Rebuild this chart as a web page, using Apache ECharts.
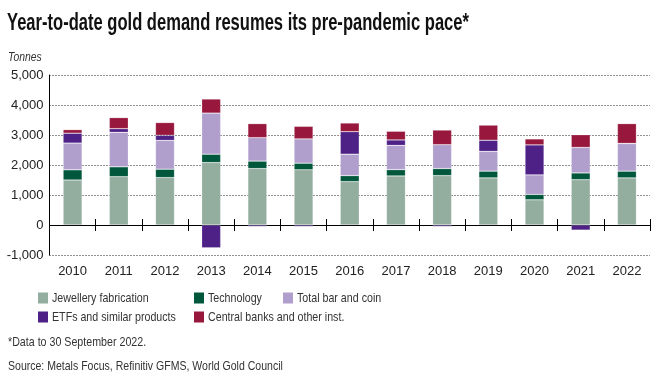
<!DOCTYPE html>
<html>
<head>
<meta charset="utf-8">
<script src="https://cdn.jsdelivr.net/npm/echarts@6/dist/echarts.min.js"></script>
<style>
html,body{margin:0;padding:0;background:#fff;}
#chart{width:666px;height:383px;}
</style>
</head>
<body>
<div id="chart"></div>
<script>
const years = ['2010','2011','2012','2013','2014','2015','2016','2017','2018','2019','2020','2021','2022'];
const jewellery = [1500,1610,1580,2080,1880,1840,1445,1635,1646,1570,840,1510,1570];
const technology = [340,330,280,280,250,220,200,210,235,225,180,225,225];
const barCoin = [890,1150,960,1370,780,810,715,810,795,660,650,850,920];
const etfs = [330,120,170,-760,-50,-50,750,180,-50,370,1000,-170,5];
const centralBanks = [120,370,425,470,470,420,290,290,490,505,200,425,660];
const yTicks = [-1000,0,1000,2000,3000,4000,5000];

const seriesNames = ['Jewellery fabrication','Technology','Total bar and coin','ETFs and similar products','Central banks and other inst.'];
const seriesData = [jewellery, technology, barCoin, etfs, centralBanks];
const colors = ['#93ad9f','#00573b','#b09fcd','#4d2185','#98183d'];

const titleText = 'Year-to-date gold demand resumes its pre-pandemic pace*';
const unitText = 'Tonnes';
const noteText = '*Data to 30 September 2022.';
const sourceText = 'Source: Metals Focus, Refinitiv GFMS, World Gold Council';

const chart = echarts.init(document.getElementById('chart'), null, {renderer:'canvas'});
const sans = '"Liberation Sans", Arial, Helvetica, sans-serif';

function txt(text, x, y, size, opts){
  opts = opts || {};
  return {
    type:'text', x:x, y:y, scaleX:opts.scaleX || 0.8, scaleY:1, silent:true,
    style:{text:text, x:0, y:0, fontFamily:sans, fontSize:size,
      fontWeight:opts.weight || 'normal', fontStyle:opts.style || 'normal',
      fill:opts.color || '#333', textVerticalAlign:'middle', textAlign:'left'}
  };
}

const legendPos = [[38,298],[194,298],[283,298],[38,317],[194,317]];
const graphics = [
  txt(titleText, 7, 24, 23, {weight:'bold', color:'#111', scaleX:0.72}),
  txt(unitText, 8, 57, 13, {style:'italic', scaleX:0.8}),
  txt(noteText, 8, 342, 13.5, {scaleX:0.79}),
  txt(sourceText, 8, 366, 13.5, {scaleX:0.78})
];
seriesNames.forEach((n,i)=>{
  graphics.push({type:'rect', silent:true, shape:{x:legendPos[i][0], y:legendPos[i][1]-5.5, width:10, height:11},
    style:{fill:colors[i]}});
  graphics.push(txt(n, legendPos[i][0]+14, legendPos[i][1], 13.5, {scaleX:0.79}));
});

const option = {
  animation:false,
  backgroundColor:'#fff',
  graphic:graphics,
  grid:[
    {left:49.5, right:16, top:75, bottom:128, containLabel:false},
    {left:49.5, right:16, top:75, bottom:128, containLabel:false}
  ],
  xAxis:[
    {type:'category', data:years, gridIndex:0, position:'bottom',
     axisLine:{show:false, onZero:false},
     axisTick:{show:false},
     axisLabel:{margin:10, fontFamily:sans, fontSize:13, color:'#222'},
     splitLine:{show:false}},
    {type:'category', data:years, gridIndex:0, position:'top',
     axisLine:{show:true, onZero:true, lineStyle:{color:'#000', width:1}},
     axisTick:{show:true, length:6, lineStyle:{color:'#000'}},
     axisLabel:{show:false},
     splitLine:{show:false}},
    {type:'category', data:years, gridIndex:1, position:'bottom',
     axisLine:{show:true, onZero:true, lineStyle:{color:'#000', width:1}},
     axisTick:{show:true, length:6, lineStyle:{color:'#000'}},
     axisLabel:{show:false},
     splitLine:{show:false}}
  ],
  yAxis:[
    {type:'value', gridIndex:0, min:yTicks[0], max:yTicks[yTicks.length-1], interval:1000,
     axisLine:{show:true, lineStyle:{color:'#000', width:1}},
     axisTick:{show:false},
     axisLabel:{margin:6, fontFamily:sans, fontSize:13, color:'#222',
       formatter:v=>v.toLocaleString('en-US')},
     splitLine:{show:true, lineStyle:{color:'#222', type:[1,2], width:1}}},
    {type:'value', gridIndex:1, min:yTicks[0], max:yTicks[yTicks.length-1], interval:1000,
     axisLine:{show:false}, axisTick:{show:false}, axisLabel:{show:false}, splitLine:{show:false}}
  ],
  series: seriesNames.map((n,i)=>({
    name:n, type:'bar', stack:'total', barWidth:19, xAxisIndex:0, yAxisIndex:0,
    data:seriesData[i],
    itemStyle:{color:colors[i], borderColor:'rgba(255,255,255,0.35)', borderWidth:0.6},
    emphasis:{disabled:true}
  }))
};
chart.setOption(option);
</script>
</body>
</html>
